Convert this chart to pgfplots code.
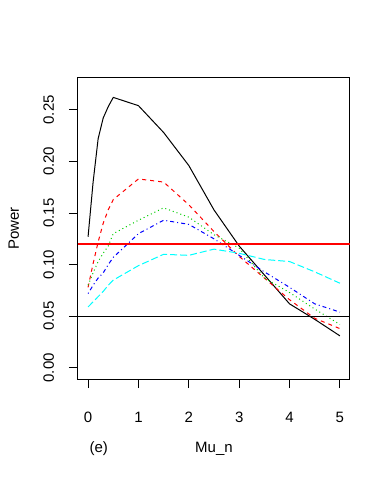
\documentclass[border=0pt]{standalone}
\usepackage{pgfplots}
\pgfplotsset{compat=1.18}
\usepackage{fontspec}
\setmainfont{Liberation Sans}
\newcommand{\fs}{\fontsize{15}{18}\selectfont}
\definecolor{rblack}{RGB}{0,0,0}
\definecolor{rred}{RGB}{255,0,0}
\definecolor{rgreen}{RGB}{0,205,0}
\definecolor{rblue}{RGB}{0,0,255}
\definecolor{rcyan}{RGB}{0,255,255}

\begin{document}
\begin{tikzpicture}
\path[use as bounding box] (0,0) rectangle (391pt,477pt);
\begin{axis}[
    at={(78pt,98pt)}, anchor=south west,
    scale only axis, width=272pt, height=301pt,
    xmin=-0.2, xmax=5.2,
    ymin=-0.0108, ymax=0.2808,
    axis line style={rblack, line width=1pt},
    xtick={0,1,2,3,4,5},
    ytick={0,0.05,0.1,0.15,0.2,0.25},
    yticklabels={0.00,0.05,0.10,0.15,0.20,0.25},
    xtick pos=left, ytick pos=left,
    xtick align=outside, ytick align=outside,
    major tick length=9pt,
    every tick/.style={rblack, line width=1pt},
    /pgf/number format/assume math mode=true,
    xticklabel style={font=\fs, anchor=base, yshift=-34pt},
    yticklabel style={font=\fs, xshift=-15pt, rotate=90, anchor=base},
    every axis x label/.style={at={(rel axis cs:0.5,0)}, anchor=base, yshift=-73pt, font=\fs},
    every axis y label/.style={at={(rel axis cs:0,0.5)}, xshift=-59pt, rotate=90, anchor=base, font=\fs},
    xlabel={Mu\_n},
    ylabel={Power},
    clip=false,
]

\addplot[rblack, line width=1pt] coordinates {
    (0,0.127) (0.1,0.18) (0.2,0.222) (0.3,0.242) (0.4,0.253) (0.5,0.262)
    (1,0.254) (1.5,0.228) (2,0.196) (2.5,0.153) (3,0.118) (3.5,0.09)
    (4,0.062) (4.5,0.047) (5,0.031)
};
\addplot[rred, line width=1pt, dash pattern=on 4pt off 4pt] coordinates {
    (0,0.078) (0.1,0.101) (0.2,0.122) (0.3,0.14) (0.4,0.153) (0.5,0.163)
    (1,0.183) (1.5,0.18) (2,0.158) (2.5,0.132) (3,0.108) (3.5,0.087)
    (4,0.066) (4.5,0.048) (5,0.038)
};
\addplot[rgreen, line width=1pt, dash pattern=on 1pt off 3pt] coordinates {
    (0,0.08) (0.1,0.092) (0.2,0.103) (0.3,0.111) (0.4,0.118) (0.5,0.13)
    (1,0.143) (1.5,0.155) (2,0.146) (2.5,0.129) (3,0.116) (3.5,0.087)
    (4,0.073) (4.5,0.057) (5,0.042)
};
\addplot[rblue, line width=1pt, dash pattern=on 1pt off 3pt on 4pt off 3pt] coordinates {
    (0,0.072) (0.1,0.08) (0.2,0.087) (0.3,0.092) (0.4,0.1) (0.5,0.107)
    (1,0.13) (1.5,0.143) (2,0.139) (2.5,0.125) (3,0.109) (3.5,0.093)
    (4,0.078) (4.5,0.062) (5,0.054)
};
\addplot[rcyan, line width=1pt, dash pattern=on 7pt off 3pt] coordinates {
    (0,0.059) (0.1,0.064) (0.2,0.069) (0.3,0.074) (0.4,0.08) (0.5,0.085)
    (1,0.099) (1.5,0.11) (2,0.109) (2.5,0.115) (3,0.111) (3.5,0.105)
    (4,0.103) (4.5,0.093) (5,0.082)
};

% horizontal reference lines
\addplot[rred, line width=1.3pt] coordinates {(-0.2,0.12) (5.2,0.12)};
\addplot[rblack, line width=1pt] coordinates {(-0.2,0.05) (5.2,0.05)};

\node[font=\fs, anchor=base west] at (rel axis cs:0,0) [xshift=8pt, yshift=-73pt] {(e)};

\end{axis}
\end{tikzpicture}
\end{document}
